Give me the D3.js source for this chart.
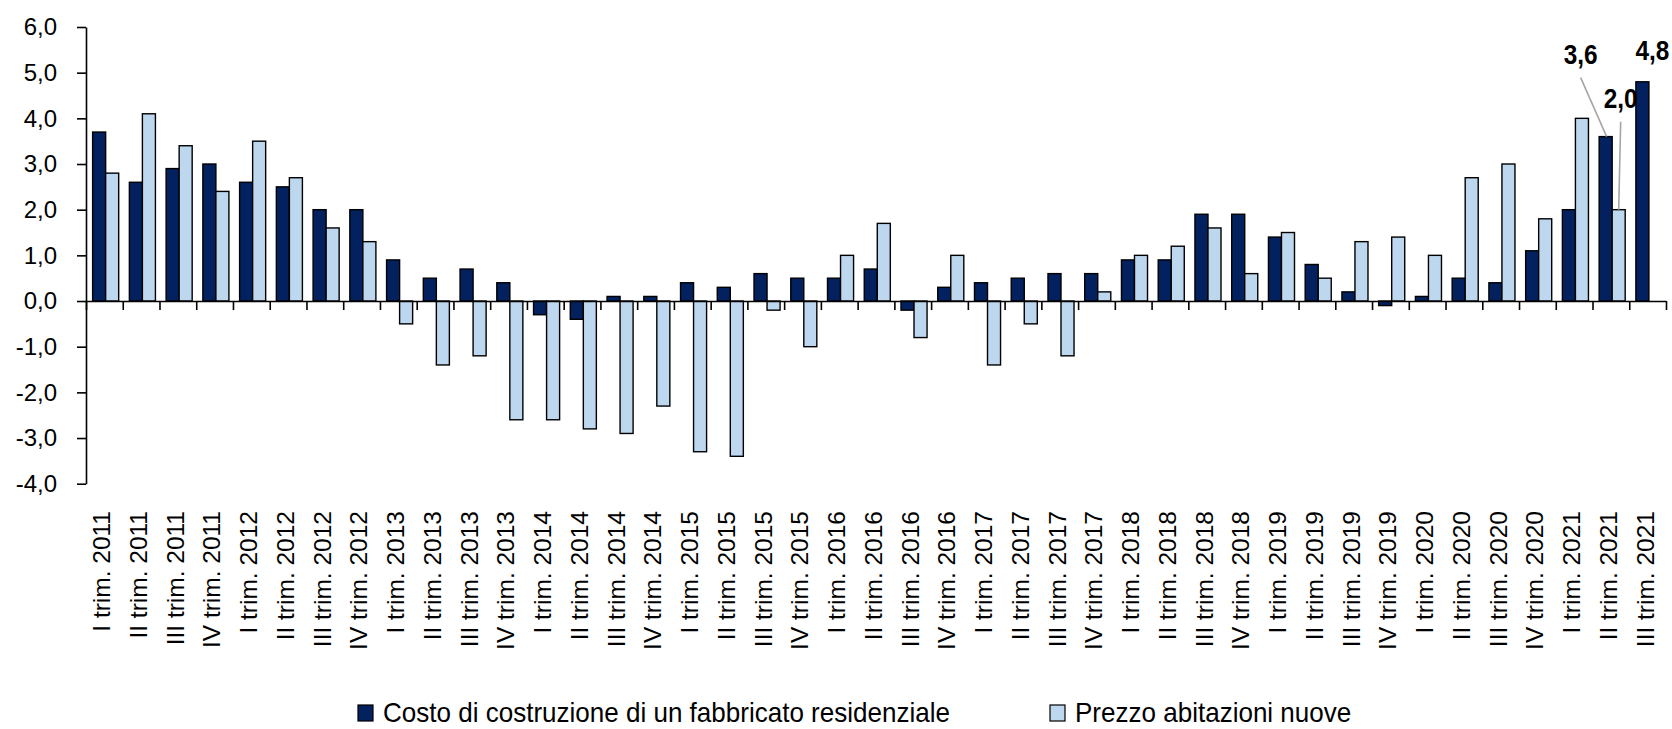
<!DOCTYPE html>
<html>
<head>
<meta charset="utf-8">
<script src="https://cdn.jsdelivr.net/npm/d3@7"></script>
<style>
  body { margin: 0; background: #fff; }
  svg { display: block; font-family: "Liberation Sans", Arial, sans-serif; }
</style>
</head>
<body>
<div id="chart"></div>
<script>
// quarters and series (variazioni % tendenziali)
const quarters = ["I", "II", "III", "IV"];
const years = [2011, 2012, 2013, 2014, 2015, 2016, 2017, 2018, 2019, 2020, 2021];
const categories = [];
years.forEach(y => quarters.forEach(q => categories.push(q + " trim. " + y)));
categories.splice(43); // fino al III trim. 2021

const costo = [3.7, 2.6, 2.9, 3.0, 2.6, 2.5, 2.0, 2.0, 0.9, 0.5, 0.7, 0.4, -0.3, -0.4, 0.1, 0.1,
    0.4, 0.3, 0.6, 0.5, 0.5, 0.7, -0.2, 0.3, 0.4, 0.5, 0.6, 0.6, 0.9, 0.9, 1.9, 1.9,
    1.4, 0.8, 0.2, -0.1, 0.1, 0.5, 0.4, 1.1, 2.0, 3.6, 4.8];
const prezzo = [2.8, 4.1, 3.4, 2.4, 3.5, 2.7, 1.6, 1.3, -0.5, -1.4, -1.2, -2.6, -2.6, -2.8, -2.9, -2.3,
    -3.3, -3.4, -0.2, -1.0, 1.0, 1.7, -0.8, 1.0, -1.4, -0.5, -1.2, 0.2, 1.0, 1.2, 1.6, 0.6,
    1.5, 0.5, 1.3, 1.4, 1.0, 2.7, 3.0, 1.8, 4.0, 2.0, null];
const seriesNames = ["Costo di costruzione di un fabbricato residenziale", "Prezzo abitazioni nuove"];
const yTicks = [-4, -3, -2, -1, 0, 1, 2, 3, 4, 5, 6];

// etichette dati (serie, indice)
const labels = [
    {s: 0, i: 41, dx: -25, dy: -73, line: true},
    {s: 1, i: 41, dx: 2, dy: -102, line: true},
    {s: 0, i: 42, dx: 10, dy: -22, line: false}
];

const W = 1672, H = 729;
const colors = ["#03215F", "#BDD7EE"];
const mLeft = 86, mRight = 1666, mTop = 27, mBottom = 483.7;

const it = d3.formatLocale({decimal: ",", thousands: ".", grouping: [3], currency: ["", "€"], minus: "-"});
const fmt = it.format(".1f");

const svg = d3.select("#chart").append("svg")
    .attr("width", W)
    .attr("height", H);

const x = d3.scaleBand().domain(categories).range([mLeft, mRight]).padding(0);
const xs = d3.scaleBand().domain([0, 1]).range([0, x.bandwidth()])
    .paddingInner(0).paddingOuter(0.41).align(0.62);
const y = d3.scaleLinear().domain([-4, 6]).range([mBottom, mTop]);

const rows = categories.map((c, i) => ({cat: c, vals: [costo[i], prezzo[i]]}));

// bars
const groups = svg.append("g").selectAll("g").data(rows).enter()
    .append("g").attr("transform", d => "translate(" + x(d.cat) + ",0)");
groups.selectAll("rect")
    .data(d => d.vals.map((v, s) => ({v: v, s: s})).filter(e => e.v !== null))
    .enter().append("rect")
    .attr("x", d => xs(d.s))
    .attr("width", xs.bandwidth())
    .attr("y", d => y(Math.max(0, d.v)))
    .attr("height", d => Math.abs(y(d.v) - y(0)))
    .attr("fill", d => colors[d.s])
    .attr("stroke", "#000")
    .attr("stroke-width", 1.4);

// y axis
const yAxis = svg.append("g")
    .attr("transform", "translate(" + mLeft + ",0)")
    .call(d3.axisLeft(y).tickValues(yTicks).tickFormat(fmt).tickSize(9).tickSizeOuter(0).tickPadding(20));
yAxis.selectAll("text")
    .attr("font-size", 24)
    .attr("font-family", "'Liberation Sans', Arial, sans-serif")
    .attr("fill", "#000");

// category axis on zero line, ticks between categories
const xIdx = d3.scaleLinear().domain([0, categories.length]).range([mLeft, mRight]);
svg.append("g")
    .attr("transform", "translate(0," + y(0) + ")")
    .call(d3.axisBottom(xIdx).tickValues(d3.range(0, categories.length + 1)).tickFormat("").tickSize(9).tickSizeOuter(0));

svg.selectAll(".domain, .tick line").attr("stroke", "#000").attr("stroke-width", 1.6);

// rotated category labels
svg.append("g").selectAll("text").data(categories).enter()
    .append("text")
    .attr("transform", d => "translate(" + (x(d) + x.bandwidth() / 2) + ",511) rotate(-90)")
    .attr("dy", "0.24em")
    .attr("text-anchor", "end")
    .attr("font-size", 24.5)
    .attr("fill", "#000")
    .text(d => d);

// data labels with leader lines
const lab = svg.append("g");
labels.forEach(l => {
    const v = l.s === 0 ? costo[l.i] : prezzo[l.i];
    const bx = x(categories[l.i]) + xs(l.s) + xs.bandwidth() / 2;
    const by = y(v);
    const lx = bx + l.dx, ly = by + l.dy;
    if (l.line) {
        lab.append("line")
            .attr("x1", lx).attr("y1", ly + 14)
            .attr("x2", bx + (l.s === 0 ? 1 : 0)).attr("y2", by)
            .attr("stroke", "#A6A6A6")
            .attr("stroke-width", 1.6);
    }
    lab.append("text")
        .attr("transform", "translate(" + lx + "," + ly + ") scale(0.87,1)")
        .attr("text-anchor", "middle")
        .attr("font-size", 28)
        .attr("font-weight", "bold")
        .attr("fill", "#000")
        .text(fmt(v));
});

// legend
const legendX = [358, 1050];
const leg = svg.append("g").selectAll("g").data(seriesNames).enter()
    .append("g").attr("transform", (d, i) => "translate(" + legendX[i] + ",705)");
leg.append("rect")
    .attr("width", 15).attr("height", 16)
    .attr("fill", (d, i) => colors[i])
    .attr("stroke", "#000").attr("stroke-width", 1.2);
leg.append("text")
    .attr("transform", "translate(25,17) scale(0.93,1)")
    .attr("font-size", 28)
    .attr("fill", "#000")
    .text(d => d);
</script>
</body>
</html>
